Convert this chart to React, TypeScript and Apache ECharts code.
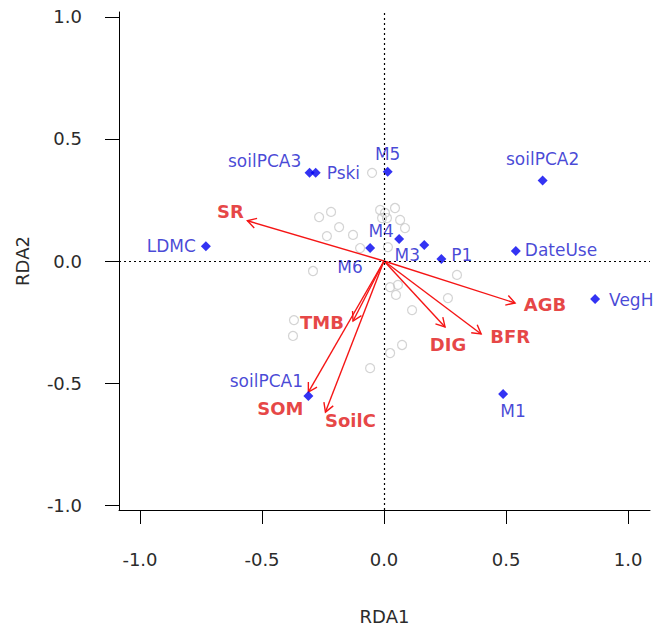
import React, { useEffect, useRef } from "react";
import * as echarts from "echarts";

// Site scores (grey open circles)
const siteX = [-0.266, -0.217, -0.184, -0.234, -0.127, -0.016, 0.004, -0.008, 0.012, 0.045, 0.066, 0.086, -0.098, 0.016, -0.291, 0.025, 0.057, 0.049, 0.299, 0.262, 0.115, -0.369, -0.373, 0.074, 0.025, -0.057, -0.049];
const siteY = [0.180, 0.201, 0.139, 0.102, 0.107, 0.209, 0.197, 0.176, 0.176, 0.217, 0.168, 0.135, 0.053, 0.057, -0.041, -0.107, -0.098, -0.139, -0.057, -0.152, -0.201, -0.242, -0.307, -0.344, -0.377, -0.439, 0.361];

// Explanatory variables (blue diamonds)
const varNames = ["soilPCA3", "Pski", "M5", "soilPCA2", "DateUse", "P1", "M3", "M4", "M6", "LDMC", "VegH", "M1", "soilPCA1"];
const varX = [-0.305, -0.28, 0.015, 0.65, 0.54, 0.235, 0.165, 0.062, -0.057, -0.73, 0.865, 0.488, -0.31];
const varY = [0.361, 0.361, 0.366, 0.33, 0.041, 0.008, 0.066, 0.09, 0.053, 0.06, -0.156, -0.545, -0.553];

// Response arrows (red)
const envNames = ["SR", "AGB", "BFR", "DIG", "TMB", "SOM", "SoilC"];
const envX = [-0.56, 0.537, 0.398, 0.25, -0.127, -0.31, -0.24];
const envY = [0.165, -0.172, -0.299, -0.27, -0.246, -0.537, -0.619];

const tickValues = [-1, -0.5, 0, 0.5, 1];

// label placement (styling only)
const varLabelStyle: Record<string, { align: string; offset: number[] }> = {
  soilPCA3: { align: "center", offset: [-45, -12] },
  Pski: { align: "left", offset: [11, 0] },
  M5: { align: "center", offset: [0, -18] },
  soilPCA2: { align: "center", offset: [0, -21] },
  DateUse: { align: "left", offset: [9, -1] },
  P1: { align: "left", offset: [10, -4] },
  M3: { align: "center", offset: [-17, 10] },
  M4: { align: "center", offset: [-18, -8] },
  M6: { align: "center", offset: [-20, 19] },
  LDMC: { align: "right", offset: [-10, 0] },
  VegH: { align: "left", offset: [14, 1] },
  M1: { align: "center", offset: [10, 17] },
  soilPCA1: { align: "center", offset: [-42, -15] },
};
const envLabelOffset: Record<string, number[]> = {
  SR: [-17, -9],
  AGB: [30, 2],
  BFR: [29, 3],
  DIG: [3, 18],
  TMB: [-31, 1],
  SOM: [-28, 16],
  SoilC: [25, 8],
};

const FONT = "DejaVu Sans";

export default function App() {
  const ref = useRef<HTMLDivElement>(null);
  useEffect(() => {
    if (!ref.current) return;
    const chart = echarts.init(ref.current, undefined, { renderer: "svg" });
    const axisText = { fontSize: 18, color: "#2b2b2b", fontFamily: FONT };
    chart.setOption({
      animation: false,
      backgroundColor: "#ffffff",
      grid: { left: 119, top: 12, width: 531, height: 498, containLabel: false },
      xAxis: {
        type: "value",
        min: -1.086,
        max: 1.09,
        axisLine: { show: true, onZero: false, lineStyle: { color: "#000", width: 1 } },
        axisTick: { show: true, length: 14, customValues: tickValues, lineStyle: { color: "#000", width: 1 } },
        axisLabel: { customValues: tickValues, formatter: (v: number) => v.toFixed(1), margin: 40, ...axisText },
        splitLine: { show: false },
        name: "RDA1",
        nameLocation: "middle",
        nameGap: 97,
        nameTextStyle: axisText,
      },
      yAxis: {
        type: "value",
        min: -1.02,
        max: 1.02,
        axisLine: { show: true, onZero: false, lineStyle: { color: "#000", width: 1 } },
        axisTick: { show: true, length: 14, customValues: tickValues, lineStyle: { color: "#000", width: 1 } },
        axisLabel: { customValues: tickValues, formatter: (v: number) => v.toFixed(1), margin: 37, ...axisText },
        splitLine: { show: false },
        name: "RDA2",
        nameLocation: "middle",
        nameGap: 88,
        nameTextStyle: axisText,
      },
      series: [
        {
          type: "scatter",
          name: "sites",
          data: siteX.map((x, i) => [x, siteY[i]]),
          symbol: "circle",
          symbolSize: 9,
          itemStyle: { color: "rgba(255,255,255,0)", borderColor: "#c8c8c8", borderWidth: 1.2 },
          z: 1,
          markLine: {
            silent: true,
            symbol: ["none", "none"],
            label: { show: false },
            lineStyle: { color: "#000", width: 1.2, type: [2, 3] },
            data: [{ xAxis: 0 }, { yAxis: 0 }],
          },
        },
        {
          type: "custom",
          name: "arrows",
          coordinateSystem: "cartesian2d",
          data: envX.map((x, i) => [x, envY[i]]),
          z: 3,
          renderItem: (_params: any, api: any) => {
            const o = api.coord([0, 0]);
            const t = api.coord([api.value(0), api.value(1)]);
            const ang = Math.atan2(t[1] - o[1], t[0] - o[0]);
            const L = 10;
            const a = Math.PI / 6;
            const p1 = [t[0] - L * Math.cos(ang - a), t[1] - L * Math.sin(ang - a)];
            const p2 = [t[0] - L * Math.cos(ang + a), t[1] - L * Math.sin(ang + a)];
            return {
              type: "group",
              children: [
                { type: "line", shape: { x1: o[0], y1: o[1], x2: t[0], y2: t[1] }, style: { stroke: "#f51515", lineWidth: 1.4 } },
                { type: "polyline", shape: { points: [p1, t, p2] }, style: { stroke: "#f51515", lineWidth: 1.4, fill: "none" } },
              ],
            };
          },
        },
        {
          type: "scatter",
          name: "variables",
          symbol: "diamond",
          symbolSize: 10,
          itemStyle: { color: "#0000f0" },
          z: 4,
          data: varNames.map((n, i) => ({
            name: n,
            value: [varX[i], varY[i]],
            label: {
              show: true,
              position: "inside",
              formatter: n,
              align: varLabelStyle[n].align,
              verticalAlign: "middle",
              offset: varLabelStyle[n].offset,
              color: "#1818cc",
              fontSize: 17,
              fontFamily: FONT,
            },
          })),
        },
        {
          type: "scatter",
          name: "envlabels",
          symbol: "circle",
          symbolSize: 1,
          itemStyle: { color: "rgba(0,0,0,0)" },
          z: 5,
          data: envNames.map((n, i) => ({
            name: n,
            value: [envX[i], envY[i]],
            label: {
              show: true,
              position: "inside",
              formatter: n,
              align: "center",
              verticalAlign: "middle",
              offset: envLabelOffset[n],
              color: "#e01414",
              fontSize: 18,
              fontWeight: "bold",
              fontFamily: FONT,
            },
          })),
        },
      ],
    });
    return () => chart.dispose();
  }, []);
  return <div ref={ref} style={{ position: "absolute", left: 0, top: 0, width: 660, height: 633 }} />;
}
